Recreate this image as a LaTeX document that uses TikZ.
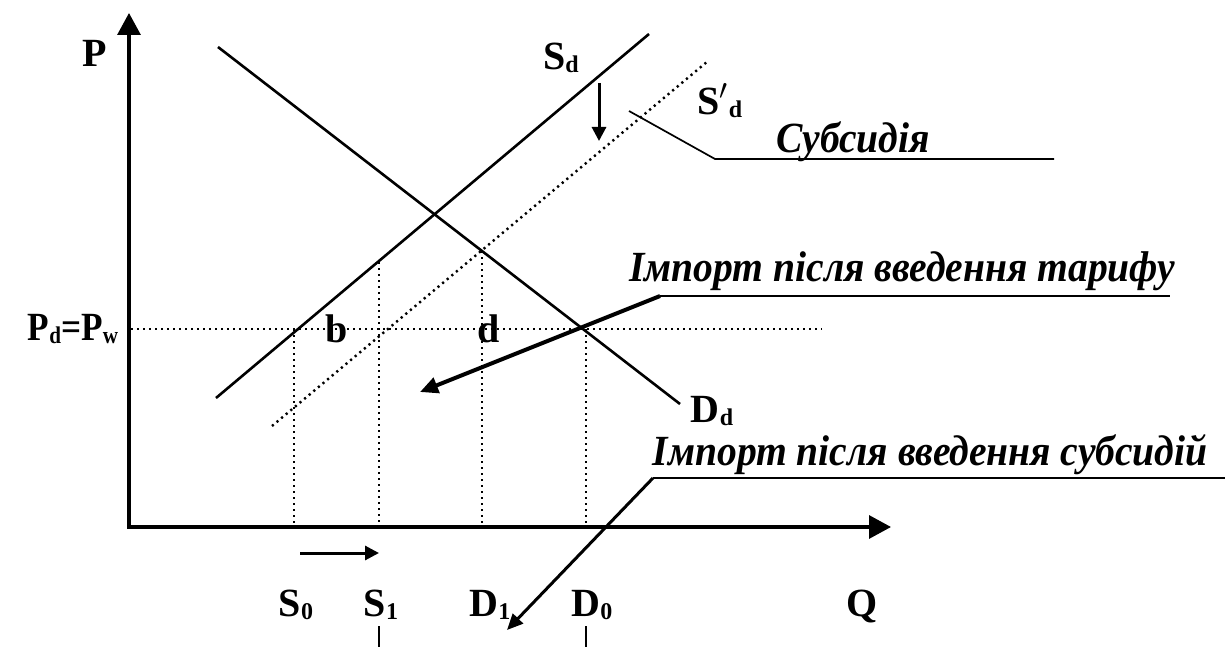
\documentclass[tikz,border=0pt]{standalone}
\usepackage{fontspec}
\setmainfont{Liberation Serif}
\usetikzlibrary{arrows.meta}
\newcommand{\lbl}[2]{#1\raisebox{-1.5pt}{\fontsize{12}{12}\selectfont #2}}
\newcommand{\cond}[1]{\scalebox{0.92}[1]{#1}}
\begin{document}
\begin{tikzpicture}[x=0.5pt,y=-0.5pt,
  axisline/.style={line width=1.6pt,-{Triangle[length=11pt,width=11.5pt]}},
  curve/.style={line width=1.3pt},
  dotline/.style={line width=1.2pt,dash pattern=on 1.1pt off 1.9pt},
  thinlead/.style={line width=0.85pt},
  uline/.style={line width=1pt},
  bigarrow/.style={line width=2pt,-{Triangle[length=9pt,width=8pt]}},
  midarrow/.style={line width=1.5pt,-{Triangle[length=8pt,width=7pt]}},
  smallarrow/.style={line width=1.5pt,-{Triangle[length=7pt,width=7pt]}},
  tick/.style={line width=0.6pt},
  txt/.style={font=\fontsize{20}{20}\selectfont\bfseries,inner sep=0pt},
  itxt/.style={font=\fontsize{21.5}{21.5}\selectfont\bfseries\itshape,inner sep=0pt}
]
\useasboundingbox (0,0) rectangle (1225,647);

% coordinates
\coordinate (O) at (129,527);
\coordinate (Ytop) at (129,13);
\coordinate (Xstart) at (127,527);
\coordinate (Xend) at (891,527);

\coordinate (Dtop) at (218,47);
\coordinate (Dbot) at (680,404);
\coordinate (Sbot) at (216,398);
\coordinate (Stop) at (649,34);
\coordinate (Spbot) at (272,426);
\coordinate (Sptop) at (708,61);

\coordinate (Pwl) at (131,329);
\coordinate (Pwr) at (822,329);

\coordinate (s0top) at (294,329);
\coordinate (s0bot) at (294,525);
\coordinate (s1top) at (379,262);
\coordinate (s1bot) at (379,525);
\coordinate (d1top) at (482,251);
\coordinate (d1bot) at (482,525);
\coordinate (d0top) at (586,329);
\coordinate (d0bot) at (586,525);

% axes
\draw[axisline] (O) -- (Ytop);
\draw[axisline] (Xstart) -- (Xend);

% curves
\draw[curve] (Dtop) -- (Dbot);
\draw[curve] (Sbot) -- (Stop);
\draw[dotline] (Spbot) -- (Sptop);

% dotted guides
\draw[dotline] (Pwl) -- (Pwr);
\draw[dotline] (s0top) -- (s0bot);
\draw[dotline] (s1top) -- (s1bot);
\draw[dotline] (d1top) -- (d1bot);
\draw[dotline] (d0top) -- (d0bot);

% shift arrow
\coordinate (shA) at (599,83);
\coordinate (shB) at (599,141);
\draw[smallarrow] (shA) -- (shB);

% subsidy leader
\coordinate (subA) at (629,111);
\coordinate (subB) at (715,159);
\coordinate (subC) at (1054,159);
\draw[thinlead] (subA) -- (subB) -- (subC);
\node[itxt] (sub) at (853,142) {\cond{Субсидія}};

% tariff import leader
\coordinate (tarR) at (1170,296);
\coordinate (tarC) at (660,296);
\coordinate (tarT) at (420,392);
\draw[uline] (tarC) -- (tarR);
\draw[bigarrow] (tarC) -- (tarT);
\node[itxt] (tar) at (902,271) {\cond{Імпорт після введення тарифу}};

% subsidy import leader
\coordinate (sbR) at (1225,478);
\coordinate (sbC) at (653,478);
\coordinate (sbT) at (507,630);
\draw[uline] (sbC) -- (sbR);
\draw[midarrow] (sbC) -- (sbT);
\node[itxt] (sbi) at (930,455) {\cond{Імпорт після введення субсидій}};

% small arrow below axis
\coordinate (qa) at (300,553);
\coordinate (qb) at (379,553);
\draw[smallarrow] (qa) -- (qb);

% ticks
\coordinate (t1a) at (379,626);
\coordinate (t1b) at (379,647);
\coordinate (t2a) at (586,626);
\coordinate (t2b) at (586,647);
\draw[tick] (t1a) -- (t1b);
\draw[tick] (t2a) -- (t2b);

% labels
\node[txt] (P) at (95,53) {P};
\node[txt] (Sd) at (561,58) {\lbl{S}{d}};
\node[txt] (Spd) at (720,101) {\lbl{S$'$}{d}};
\node[txt] (Pdw) at (73,329) {\scalebox{0.88}[1]{\lbl{P}{d}=\lbl{P}{w}}};
\node[txt] (b) at (337,329) {b};
\node[txt] (d) at (489,329) {d};
\node[txt] (Dd) at (712,411) {\lbl{D}{d}};
\node[txt] (S0) at (296,605) {\lbl{S}{0}};
\node[txt] (S1) at (381,605) {\lbl{S}{1}};
\node[txt] (D1) at (490,605) {\lbl{D}{1}};
\node[txt] (D0) at (592,605) {\lbl{D}{0}};
\node[txt] (Q) at (862,606) {Q};
\end{tikzpicture}
\end{document}
